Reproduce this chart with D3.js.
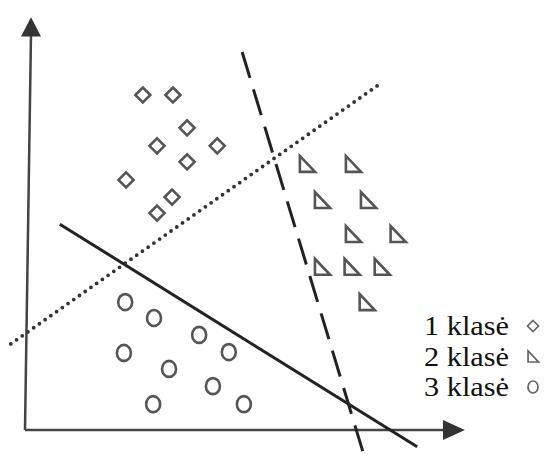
<!DOCTYPE html>
<html>
<head>
<meta charset="utf-8">
<script src="https://cdn.jsdelivr.net/npm/d3@7"></script>
<style>
  body { margin: 0; background: #fff; }
  svg { display: block; }
  .legend-label { font-family: "Liberation Serif", "Times New Roman", serif; }
</style>
</head>
<body>
<div id="chart-area"></div>
<script>
var width = 549, height = 466;

// class points (feature space units)
var class1 = [[2.74, 8.17], [3.44, 8.17], [3.77, 7.37], [3.07, 6.93], [4.47, 6.93],
              [3.77, 6.54], [2.35, 6.10], [3.42, 5.68], [3.07, 5.29]];
var class2 = [[6.56, 6.49], [7.63, 6.49], [6.91, 5.61], [7.98, 5.61], [7.63, 4.78],
              [8.67, 4.78], [6.91, 3.98], [7.60, 3.98], [8.30, 3.98], [7.95, 3.12]];
var class3 = [[2.33, 3.12], [3.00, 2.73], [4.05, 2.32], [4.74, 1.90], [2.30, 1.88],
              [3.35, 1.49], [4.37, 1.07], [2.98, 0.63], [5.09, 0.63]];

// separating lines (end points)
var solidLine = [[0.81, 5.02], [9.12, -0.41]];
var dashedLine = [[5.05, 9.22], [7.91, -0.71]];
var dottedLine = [[-0.33, 2.10], [8.21, 8.41]];

var legendLabels = ["1 klasė", "2 klasė", "3 klasė"];
var legendShapes = ["diamond", "triangle", "circle"];

var svg = d3.select("#chart-area")
    .append("svg")
        .attr("width", width)
        .attr("height", height);

var x = d3.scaleLinear().domain([0, 10]).range([25, 455]);
var y = d3.scaleLinear().domain([0, 10]).range([430, 20]);

var line = d3.line()
    .x(function(d) { return x(d[0]); })
    .y(function(d) { return y(d[1]); });

// axes with arrow heads
svg.append("path")
    .attr("d", line([[0, 0], [0.14, 9.7]]))
    .attr("stroke", "#444")
    .attr("stroke-width", 2.5)
    .attr("fill", "none");
svg.append("path")
    .attr("d", "M" + (x(0.14) - 10) + "," + y(9.6) + "L" + x(0.14) + "," + y(10.07) + "L" + (x(0.14) + 10) + "," + y(9.6) + "Z")
    .attr("fill", "#333");

svg.append("path")
    .attr("d", line([[0, 0], [9.8, 0]]))
    .attr("stroke", "#444")
    .attr("stroke-width", 2.5)
    .attr("fill", "none");
svg.append("path")
    .attr("d", "M" + x(9.72) + "," + (y(0) - 10) + "L" + x(10.23) + "," + y(0) + "L" + x(9.72) + "," + (y(0) + 10) + "Z")
    .attr("fill", "#333");

// separating lines
svg.append("path")
    .attr("d", line(solidLine))
    .attr("stroke", "#222")
    .attr("stroke-width", 3)
    .attr("fill", "none");

svg.append("path")
    .attr("d", line(dashedLine))
    .attr("stroke", "#222")
    .attr("stroke-width", 3)
    .attr("stroke-dasharray", "27,12")
    .attr("fill", "none");

svg.append("path")
    .attr("d", line(dottedLine))
    .attr("stroke", "#333")
    .attr("stroke-width", 3.8)
    .attr("stroke-linecap", "round")
    .attr("stroke-dasharray", "0,7")
    .attr("fill", "none");

// marker shapes
function shapePath(type, s) {
    if (type === "diamond") {
        return "M0," + (-s) + "L" + s + ",0L0," + s + "L" + (-s) + ",0Z";
    }
    if (type === "triangle") {
        return "M" + (-s * 0.9) + "," + (-s) + "L" + (-s * 0.9) + "," + s + "L" + s + "," + s + "Z";
    }
    return null;
}

var markerColor = "#555";

svg.selectAll(".c1")
    .data(class1)
    .enter()
    .append("path")
        .attr("class", "c1")
        .attr("transform", function(d) { return "translate(" + x(d[0]) + "," + y(d[1]) + ")"; })
        .attr("d", shapePath("diamond", 7.5))
        .attr("fill", "none")
        .attr("stroke", markerColor)
        .attr("stroke-width", 2.6);

svg.selectAll(".c2")
    .data(class2)
    .enter()
    .append("path")
        .attr("class", "c2")
        .attr("transform", function(d) { return "translate(" + x(d[0]) + "," + y(d[1]) + ")"; })
        .attr("d", shapePath("triangle", 8))
        .attr("fill", "none")
        .attr("stroke", markerColor)
        .attr("stroke-width", 2.6)
        .attr("stroke-linejoin", "miter");

svg.selectAll(".c3")
    .data(class3)
    .enter()
    .append("ellipse")
        .attr("class", "c3")
        .attr("cx", function(d) { return x(d[0]); })
        .attr("cy", function(d) { return y(d[1]); })
        .attr("rx", 7)
        .attr("ry", 8)
        .attr("fill", "none")
        .attr("stroke", markerColor)
        .attr("stroke-width", 2.6);

// legend
var legend = svg.append("g")
    .attr("transform", "translate(424, 335)");

legendLabels.forEach(function(label, i) {
    var row = legend.append("g")
        .attr("transform", "translate(0," + (i * 30.5) + ")");
    row.append("text")
        .attr("class", "legend-label")
        .attr("x", 0)
        .attr("y", 0)
        .attr("font-size", "27px")
        .attr("fill", "#111")
        .attr("textLength", 85)
        .attr("lengthAdjust", "spacingAndGlyphs")
        .text(label);
    var sym = row.append("g")
        .attr("transform", "translate(109,-9)");
    if (legendShapes[i] === "circle") {
        sym.append("ellipse")
            .attr("rx", 5).attr("ry", 6)
            .attr("fill", "none").attr("stroke", "#666").attr("stroke-width", 1.7);
    } else {
        sym.append("path")
            .attr("d", shapePath(legendShapes[i], 5.5))
            .attr("fill", "none").attr("stroke", "#666").attr("stroke-width", 1.7);
    }
});
</script>
</body>
</html>
